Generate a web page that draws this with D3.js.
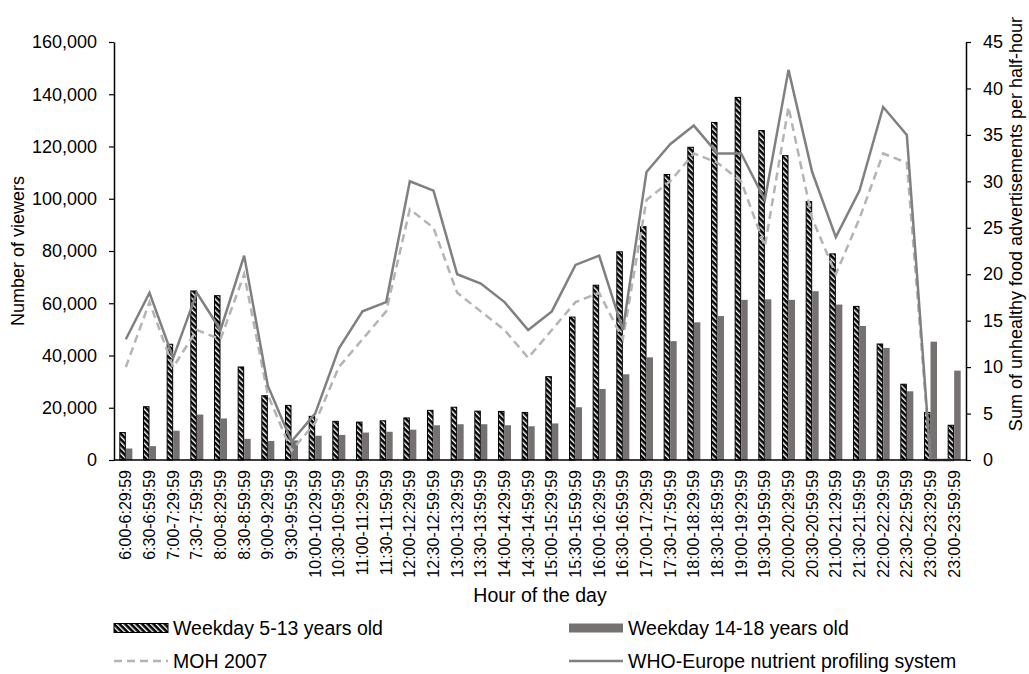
<!DOCTYPE html>
<html><head><meta charset="utf-8">
<script src="https://cdn.jsdelivr.net/npm/d3@7"></script>
<style>
body{margin:0;background:#fff;}
text{font-family:"Liberation Sans",Arial,sans-serif;fill:#000;}
</style></head>
<body><svg id="c" width="1029" height="674"></svg>
<script>
const categories = ["6:00-6:29:59","6:30-6:59:59","7:00-7:29:59","7:30-7:59:59","8:00-8:29:59","8:30-8:59:59","9:00-9:29:59","9:30-9:59:59","10:00-10:29:59","10:30-10:59:59","11:00-11:29:59","11:30-11:59:59","12:00-12:29:59","12:30-12:59:59","13:00-13:29:59","13:30-13:59:59","14:00-14:29:59","14:30-14:59:59","15:00-15:29:59","15:30-15:59:59","16:00-16:29:59","16:30-16:59:59","17:00-17:29:59","17:30-17:59:59","18:00-18:29:59","18:30-18:59:59","19:00-19:29:59","19:30-19:59:59","20:00-20:29:59","20:30-20:59:59","21:00-21:29:59","21:30-21:59:59","22:00-22:29:59","22:30-22:59:59","23:00-23:29:59","23:00-23:59:59"];
const weekday513 = [10500,20400,44300,64700,62900,35600,24600,20900,16700,14800,14500,15000,16100,19000,20200,18700,18600,18200,31900,54700,66900,79700,89300,109300,119700,129200,138800,126100,116500,98900,78900,58800,44400,29000,18200,13300];
const weekday1418 = [4400,5300,11200,17400,15900,8100,7300,7500,9300,9600,10500,10800,11600,13300,13700,13700,13300,12900,14000,20200,27200,32800,39300,45500,52700,55100,61300,61500,61300,64600,59500,51300,42900,26300,45300,34200];
const moh2007 = [10,17,10,14,13,20,7,1,4,10,13,16,27,25,18,16,14,11,14,17,18,13,28,30,33,32,30,23,38,26,20,26,33,32,0,0];
const whoEurope = [13,18,11,18,14,22,8,2,5,12,16,17,30,29,20,19,17,14,16,21,22,14,31,34,36,33,33,28,42,31,24,29,38,35,0,0];
const leftTicks = [0,20000,40000,60000,80000,100000,120000,140000,160000];
const rightTicks = [0,5,10,15,20,25,30,35,40,45];

const svg = d3.select("#c");
const L=114, R=966, T=42, B=460;
const defs = svg.append("defs");
const pat = defs.append("pattern").attr("id","hatch").attr("patternUnits","userSpaceOnUse")
  .attr("width",4).attr("height",4).attr("patternTransform","rotate(-45)");
pat.append("rect").attr("width",4).attr("height",4).attr("fill","#000");
pat.append("rect").attr("x",0).attr("y",0).attr("width",1.4).attr("height",4).attr("fill","#fff");

const x0 = d3.scaleBand().domain(categories).range([L,R]).paddingInner(0.45).paddingOuter(0.225);
const x1 = d3.scaleBand().domain(["a","b"]).range([0,x0.bandwidth()]);
const y = d3.scaleLinear().domain([0,160000]).range([B,T]);
const y2 = d3.scaleLinear().domain([0,45]).range([B,T]);

// bars
svg.append("g").selectAll("rect").data(categories).join("rect")
  .attr("x",(d)=>x0(d)+x1("a")+0.5).attr("width",x1.bandwidth()-1)
  .attr("y",(d,i)=>y(weekday513[i])).attr("height",(d,i)=>B-y(weekday513[i]))
  .attr("fill","url(#hatch)").attr("stroke","#000").attr("stroke-width",1);
svg.append("g").selectAll("rect").data(categories).join("rect")
  .attr("x",(d)=>x0(d)+x1("b")).attr("width",x1.bandwidth())
  .attr("y",(d,i)=>y(weekday1418[i])).attr("height",(d,i)=>B-y(weekday1418[i]))
  .attr("fill","#767171");

// lines
const cx = (d)=>x0(d)+x0.bandwidth()/2;
const lineGen = (vals)=>d3.line().x((d)=>cx(d)).y((d,i)=>y2(vals[i]));
svg.append("path").datum(categories).attr("d",lineGen(moh2007)).attr("fill","none")
  .attr("stroke","#b4b4b4").attr("stroke-width",2.5).attr("stroke-dasharray","8,5");
svg.append("path").datum(categories).attr("d",lineGen(whoEurope)).attr("fill","none")
  .attr("stroke","#808080").attr("stroke-width",2.5);

// axes
const gl = svg.append("g").attr("transform",`translate(${L},0)`)
  .call(d3.axisLeft(y).tickValues(leftTicks).tickFormat(d3.format(",")).tickSizeInner(5).tickSizeOuter(0).tickPadding(12));
const gr = svg.append("g").attr("transform",`translate(${R},0)`)
  .call(d3.axisRight(y2).tickValues(rightTicks).tickSizeInner(5).tickSizeOuter(0).tickPadding(12));
const gb = svg.append("g").attr("transform",`translate(0,${B})`)
  .call(d3.axisBottom(x0).tickSize(0).tickSizeOuter(0));
[gl,gr,gb].forEach(g=>{
  g.select(".domain").attr("stroke","#000").attr("stroke-width",1.5);
  g.selectAll(".tick line").attr("stroke","#000").attr("stroke-width",1.2);
  g.selectAll("text").style("font-size","18px").style("font-family","'Liberation Sans',Arial,sans-serif");
});
gb.selectAll("text").style("font-size","16px");
gb.select(".domain").attr("d",`M${L},0H${R}`);
gb.selectAll(".tick text").attr("transform","rotate(-90)").attr("text-anchor","end")
  .attr("x",-10).attr("y",0).attr("dy","0.35em");

// titles
svg.append("text").attr("x",(L+R)/2).attr("y",602).attr("text-anchor","middle").style("font-size","19.5px").text("Hour of the day");
svg.append("text").attr("transform",`translate(24,${(T+B)/2}) rotate(-90)`).attr("text-anchor","middle").style("font-size","18px").text("Number of viewers");
svg.append("text").attr("transform",`translate(1022,224) rotate(-90)`).attr("text-anchor","middle").style("font-size","18px").text("Sum of unhealthy food advertisements per half-hour");

// legend
const lg = svg.append("g");
const legendItems = [
  {label:"Weekday 5-13 years old", type:"hatch", x:114, y:628},
  {label:"Weekday 14-18 years old", type:"gray", x:569, y:628},
  {label:"MOH 2007", type:"dash", x:114, y:661},
  {label:"WHO-Europe nutrient profiling system", type:"solid", x:569, y:661}
];
legendItems.forEach(it=>{
  const g = lg.append("g").attr("transform",`translate(${it.x},${it.y})`);
  if(it.type==="hatch") g.append("rect").attr("x",0).attr("y",-4.5).attr("width",54).attr("height",9).attr("fill","url(#hatch)").attr("stroke","#000");
  if(it.type==="gray") g.append("rect").attr("x",0).attr("y",-4.5).attr("width",54).attr("height",9).attr("fill","#767171");
  if(it.type==="dash") g.append("line").attr("x1",0).attr("x2",54).attr("stroke","#b4b4b4").attr("stroke-width",2.5).attr("stroke-dasharray","8,5");
  if(it.type==="solid") g.append("line").attr("x1",0).attr("x2",54).attr("stroke","#808080").attr("stroke-width",2.5);
  g.append("text").attr("x",59).attr("y",0).attr("dy","0.35em").style("font-size","19.5px").text(it.label);
});
</script></body></html>
